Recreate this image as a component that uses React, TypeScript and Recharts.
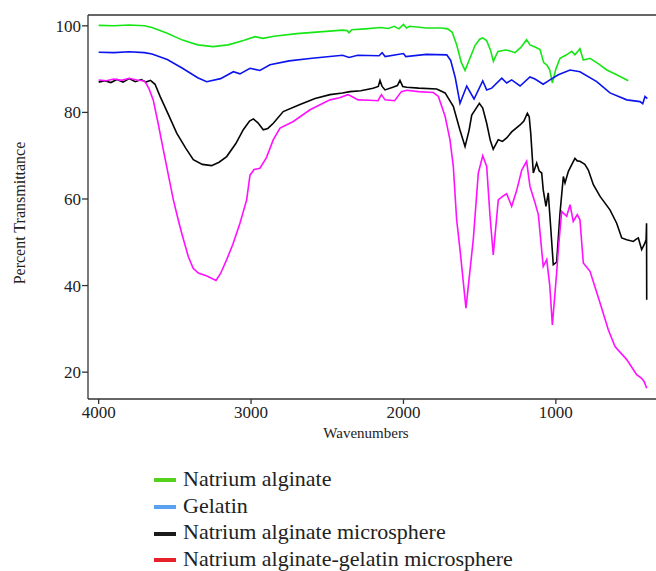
import React from "react";
import { LineChart, Line, XAxis, YAxis, ReferenceLine } from "recharts";

// wavenumbers (cm-1) and % transmittance
const alginateWn = [4000, 3900, 3800, 3700, 3650, 3550, 3450, 3350, 3250, 3150, 3050, 2974, 2922, 2850, 2700, 2550, 2400, 2370, 2357, 2340, 2250, 2150, 2100, 2060, 2030, 2000, 1980, 1960, 1850, 1750, 1710, 1680, 1650, 1620, 1596, 1570, 1530, 1500, 1480, 1455, 1430, 1410, 1395, 1380, 1330, 1300, 1268, 1230, 1192, 1170, 1130, 1104, 1080, 1060, 1040, 1023, 1000, 973, 930, 896, 875, 842, 820, 776, 720, 666, 601, 525];
const alginateT = [100.1, 100.0, 100.2, 100.0, 99.6, 98.3, 96.7, 95.6, 95.2, 95.6, 96.6, 97.5, 97.1, 97.6, 98.2, 98.6, 99.0, 98.9, 98.4, 99.1, 99.3, 99.6, 99.4, 99.9, 99.3, 100.3, 99.5, 99.9, 99.5, 99.5, 99.3, 98.5, 95.5, 91.5, 89.7, 92.0, 95.5, 96.9, 97.2, 96.6, 94.5, 91.8, 93.0, 94.1, 94.4, 94.2, 93.8, 95.0, 96.8, 95.6, 95.0, 94.5, 91.5, 91.0, 89.8, 86.8, 90.0, 92.5, 93.3, 94.1, 93.3, 94.7, 92.1, 92.5, 91.2, 89.8, 88.7, 87.3];

const gelatinWn = [4000, 3900, 3800, 3700, 3650, 3550, 3450, 3350, 3291, 3200, 3116, 3073, 3007, 2942, 2876, 2750, 2600, 2483, 2400, 2357, 2300, 2160, 2140, 2120, 2000, 1985, 1850, 1716, 1690, 1660, 1629, 1585, 1537, 1480, 1454, 1421, 1355, 1323, 1290, 1235, 1170, 1137, 1083, 1039, 984, 907, 842, 732, 645, 535, 448, 430, 415, 400];
const gelatinT = [93.9, 93.8, 94.0, 93.8, 93.5, 92.2, 90.2, 88.0, 87.1, 87.8, 89.4, 88.9, 90.2, 89.7, 91.0, 91.9, 92.5, 92.9, 93.2, 92.7, 93.2, 93.1, 93.8, 92.9, 93.6, 92.9, 93.4, 93.3, 92.0, 88.0, 82.1, 86.1, 83.1, 87.3, 85.2, 85.6, 87.9, 86.8, 87.5, 86.1, 88.2, 87.7, 86.5, 87.5, 88.7, 89.8, 89.4, 87.1, 84.5, 82.9, 82.5, 82.0, 83.7, 83.2];

const microWn = [4000, 3960, 3920, 3880, 3840, 3800, 3760, 3720, 3690, 3660, 3630, 3597, 3540, 3488, 3430, 3379, 3320, 3259, 3210, 3160, 3100, 3051, 3010, 2985, 2955, 2920, 2890, 2854, 2789, 2679, 2580, 2482, 2400, 2351, 2280, 2200, 2165, 2154, 2140, 2121, 2070, 2040, 2023, 2005, 1979, 1900, 1782, 1727, 1673, 1630, 1596, 1570, 1552, 1502, 1480, 1454, 1430, 1411, 1378, 1350, 1323, 1290, 1235, 1210, 1187, 1175, 1165, 1148, 1126, 1110, 1093, 1083, 1065, 1050, 1035, 1017, 995, 973, 951, 940, 918, 895, 875, 860, 842, 810, 787, 754, 710, 645, 601, 568, 535, 492, 470, 459, 437, 420, 408, 405, 404];
const microT = [87.0, 87.3, 86.9, 87.6, 87.0, 87.8, 87.1, 87.6, 87.0, 87.4, 86.5, 83.7, 79.3, 75.2, 71.8, 69.1, 68.0, 67.7, 68.5, 69.8, 72.8, 76.0, 78.0, 78.5, 77.6, 76.0, 76.3, 77.5, 80.2, 81.8, 83.2, 84.1, 84.5, 84.8, 85.0, 85.6, 86.0, 87.4, 86.0, 85.2, 85.8, 86.2, 87.4, 86.0, 85.8, 85.6, 85.4, 84.5, 81.4, 76.0, 72.1, 75.8, 79.4, 82.1, 81.0, 77.5, 73.5, 71.5, 73.7, 73.3, 74.1, 75.5, 77.1, 78.0, 79.8, 79.0, 75.2, 66.0, 68.3, 66.5, 66.0, 62.1, 58.3, 61.4, 54.0, 44.8, 45.4, 56.7, 65.2, 63.7, 66.4, 68.0, 69.4, 68.8, 68.7, 68.0, 66.7, 63.3, 60.6, 57.5, 54.4, 51.0, 50.6, 50.2, 50.8, 51.0, 48.3, 49.5, 50.6, 54.4, 36.7];

const gelMicroWn = [4000, 3950, 3900, 3850, 3800, 3750, 3710, 3696, 3670, 3642, 3610, 3576, 3510, 3478, 3455, 3412, 3380, 3346, 3290, 3230, 3200, 3160, 3120, 3073, 3029, 3007, 2980, 2942, 2900, 2854, 2810, 2723, 2613, 2482, 2420, 2364, 2330, 2298, 2220, 2167, 2145, 2121, 2058, 2014, 1979, 1900, 1804, 1771, 1727, 1695, 1673, 1651, 1629, 1590, 1542, 1509, 1480, 1454, 1432, 1411, 1378, 1350, 1323, 1290, 1257, 1224, 1192, 1170, 1140, 1115, 1083, 1060, 1040, 1023, 995, 984, 962, 929, 907, 886, 860, 842, 820, 776, 710, 656, 612, 535, 470, 437, 420, 404];
const gelMicroT = [87.5, 87.3, 87.7, 87.4, 87.9, 87.5, 87.3, 87.1, 85.5, 82.9, 77.5, 71.4, 59.8, 55.2, 52.1, 46.7, 44.0, 42.9, 42.2, 41.2, 42.8, 46.0, 49.5, 54.4, 59.8, 65.5, 66.8, 67.1, 69.5, 73.7, 76.4, 77.9, 80.6, 82.9, 83.4, 84.1, 83.5, 82.9, 82.8, 82.7, 84.1, 82.9, 82.7, 84.8, 85.1, 84.8, 84.6, 83.7, 79.1, 73.7, 67.5, 55.2, 48.3, 34.8, 50.6, 66.0, 70.0, 67.5, 56.0, 47.1, 59.8, 60.6, 61.2, 58.3, 62.0, 66.7, 68.7, 62.9, 59.5, 56.4, 44.4, 46.0, 40.0, 30.9, 42.9, 48.3, 57.1, 56.0, 58.7, 54.8, 56.4, 55.2, 45.2, 43.3, 36.0, 29.8, 25.9, 22.9, 19.4, 18.6, 17.8, 16.3];

const xTicks = [4000, 3000, 2000, 1000];
const yTicks = [20, 40, 60, 80, 100];
const legendNames = ["Natrium alginate", "Gelatin", "Natrium alginate microsphere", "Natrium alginate-gelatin microsphere"];

const zip = (wn: number[], t: number[]) => wn.map((w, i) => ({ wn: w, t: t[i] }));

const series = [
  { data: zip(alginateWn, alginateT), color: "#16e616", key: "alg" },
  { data: zip(gelatinWn, gelatinT), color: "#0c14ee", key: "gel" },
  { data: zip(microWn, microT), color: "#050505", key: "mic" },
  { data: zip(gelMicroWn, gelMicroT), color: "#ff10ff", key: "gmic" },
];
const legendColors = ["#55d11b", "#5aa2f0", "#1a1a1a", "#e8202a"];

const font = "'Liberation Serif', 'Times New Roman', serif";
const axisColor = "#333";

const YTitle = () => (
  <text x={19} y={213} transform="rotate(-90 19 213)" textAnchor="middle" dominantBaseline="central"
    fontSize={16} fill="#222" fontFamily={font}>
    Percent Transmittance
  </text>
);

const XTitle = () => (
  <text x={366} y={433} textAnchor="middle" dominantBaseline="central" fontSize={15} fill="#222" fontFamily={font}>
    Wavenumbers
  </text>
);

export default function App() {
  return (
    <div style={{ position: "fixed", left: 0, top: 0, width: 656, height: 571, overflow: "hidden", background: "#fff", fontFamily: font }}>
      <div style={{ position: "absolute", left: 0, top: 0 }}>
        <LineChart width={656} height={460} margin={{ top: 15, right: 0, bottom: 0, left: 0 }}>
          <XAxis dataKey="wn" type="number" domain={[343, 4070]} reversed allowDataOverflow ticks={xTicks}
            tickSize={5} tickMargin={2} height={61} stroke={axisColor} strokeWidth={1.3}
            tick={{ fill: "#222", fontSize: 17, fontFamily: font }} label={<XTitle />} />
          <YAxis type="number" domain={[13.8, 102.5]} allowDataOverflow ticks={yTicks} width={88}
            tickSize={6} tickMargin={1} stroke={axisColor} strokeWidth={1.3}
            tick={{ fill: "#222", fontSize: 17, fontFamily: font }} label={<YTitle />} />
          <ReferenceLine y={102.5} stroke={axisColor} strokeWidth={1.3} />
          {series.map(s => (
            <Line key={s.key} data={s.data} dataKey="t" stroke={s.color} strokeWidth={1.6}
              dot={false} isAnimationActive={false} />
          ))}
        </LineChart>
      </div>
      <div style={{ position: "absolute", left: 154, top: 466, fontSize: 22, lineHeight: "26.7px", color: "#222" }}>
        {legendNames.map((name, i) => (
          <div key={name} style={{ display: "flex", alignItems: "center", whiteSpace: "nowrap" }}>
            <span style={{ display: "inline-block", width: 22, height: 4, background: legendColors[i], marginRight: 7, marginTop: 2 }} />
            {name}
          </div>
        ))}
      </div>
    </div>
  );
}
